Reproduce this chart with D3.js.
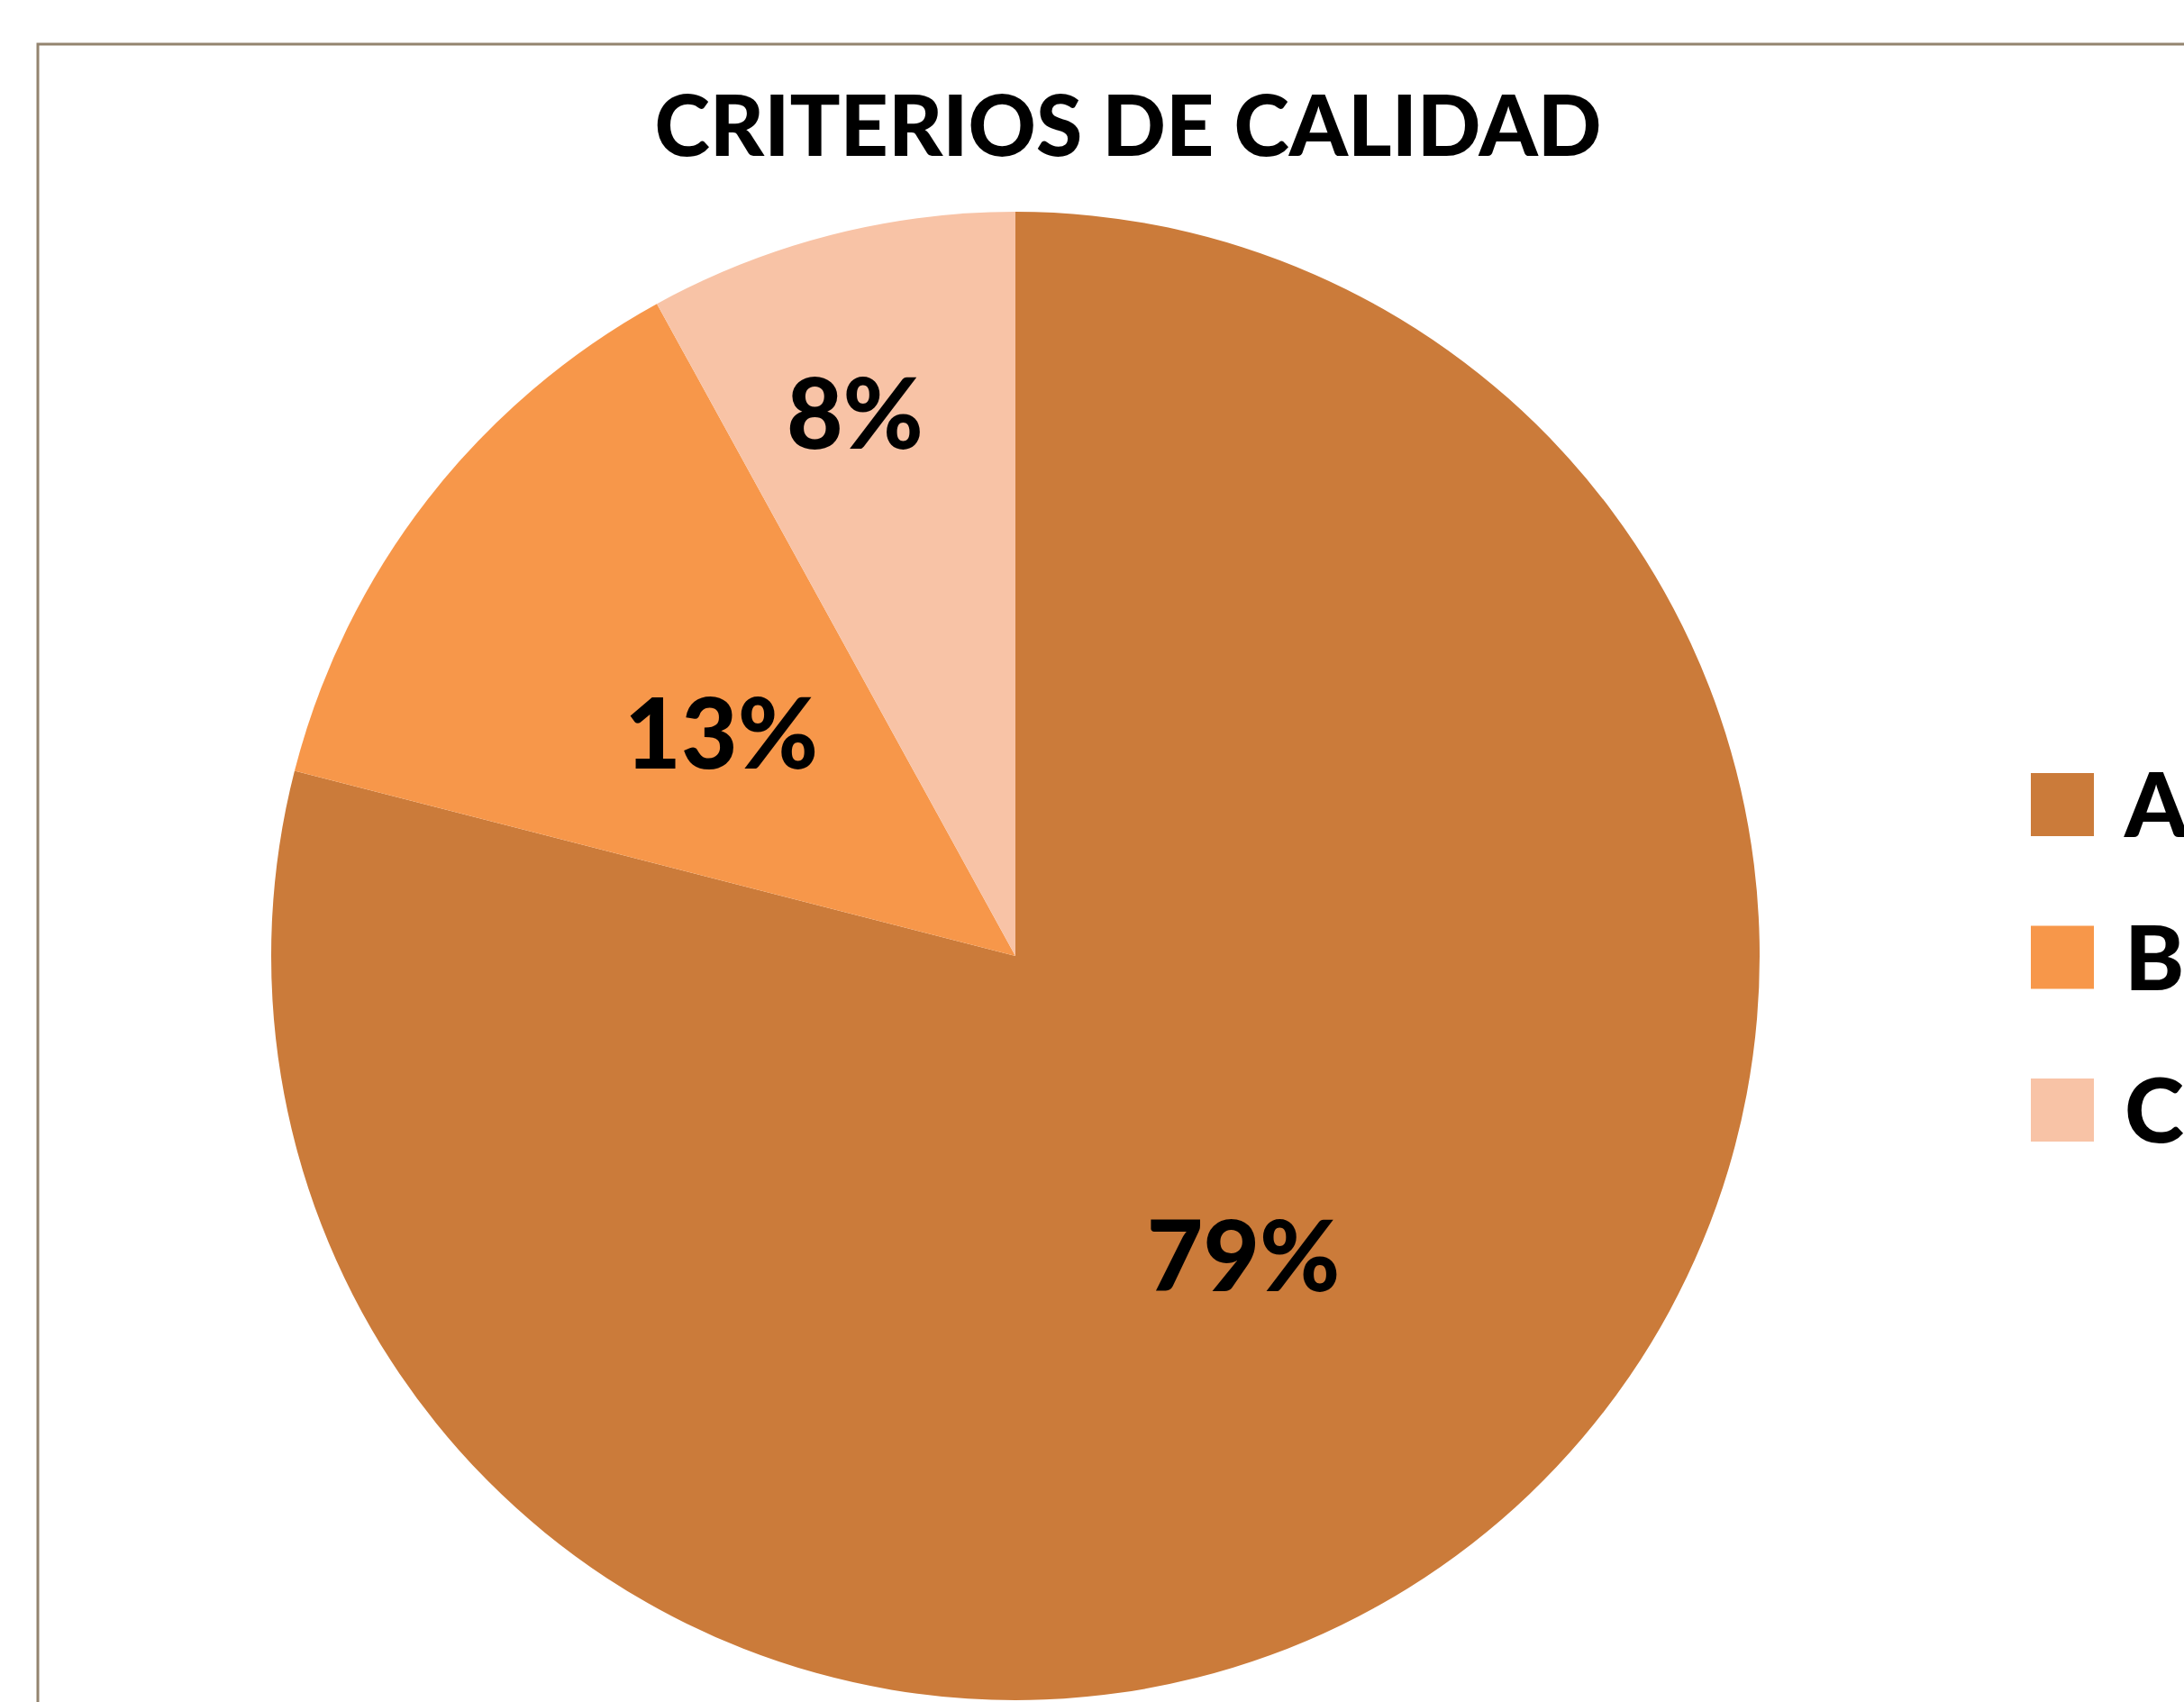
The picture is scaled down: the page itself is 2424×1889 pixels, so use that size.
<!DOCTYPE html>
<html>
<head>
<meta charset="utf-8">
<title>Criterios de calidad</title>
<script src="https://d3js.org/d3.v7.min.js"></script>
<style>
  html, body { margin: 0; padding: 0; background: #fff; overflow: hidden; }
  text { font-family: Lato, "Open Sans", sans-serif; font-weight: bold; fill: #000; }
</style>
</head>
<body>
<svg id="chart" width="2424" height="1889"></svg>
<script>
// data
var title = "CRITERIOS DE CALIDAD";
var categories = ["A", "B", "C"];
var values = [79, 13, 8];
var colors = ["#CB7B3A", "#F7974A", "#F8C3A6"];

var width = 2424, height = 1889;
var svg = d3.select("#chart");

// chart frame, runs off the right and bottom of the picture
svg.append("rect").attr("x", 42).attr("y", 49).attr("width", 2600).attr("height", 2000)
  .attr("fill", "#fff").attr("stroke", "#93846f").attr("stroke-width", 3);

svg.append("text").attr("x", 1252).attr("y", 173).attr("text-anchor", "middle")
  .style("font-size", "93px").style("font-weight", 900).text(title);

var cx = 1127, cy = 1061, r = 826;
var total = d3.sum(values);
var color = d3.scaleOrdinal().domain(categories).range(colors);

var pie = d3.pie().sort(null).value(function(d) { return d.value; });
var arcs = pie(categories.map(function(c, i) { return {name: c, value: values[i]}; }));
var arc = d3.arc().innerRadius(0).outerRadius(r);
// small slices get their label pushed out towards the rim
var arcMid = d3.arc().innerRadius(0).outerRadius(r);
var arcOut = d3.arc().innerRadius(0.52 * r).outerRadius(r);

var g = svg.append("g").attr("transform", "translate(" + cx + "," + cy + ")");
g.selectAll("path").data(arcs).enter().append("path")
  .attr("d", arc).attr("fill", function(d) { return color(d.data.name); });

g.selectAll("text.lbl").data(arcs).enter().append("text").attr("class", "lbl")
  .attr("transform", function(d) {
    var small = d.data.value / total < 0.1;
    var p = (small ? arcOut : arcMid).centroid(d);
    // excel nudges the squeezed label away from the slice edge
    if (small) p[0] -= 22;
    return "translate(" + p[0] + "," + p[1] + ")";
  })
  .attr("text-anchor", "middle").attr("dy", "0.42em")
  .style("font-size", "108px").style("font-weight", 900)
  .text(function(d) { return Math.round(d.data.value / total * 100) + "%"; });

// legend
var ly = d3.scalePoint().domain(categories).range([893, 1232]);
var leg = svg.append("g").selectAll("g").data(categories).enter().append("g")
  .attr("transform", function(d) { return "translate(2254," + ly(d) + ")"; });
leg.append("rect").attr("x", 0).attr("y", -35).attr("width", 70).attr("height", 70)
  .attr("fill", function(d) { return color(d); });
leg.append("text").attr("x", 104).attr("y", 36).style("font-size", "100px").style("font-weight", 900)
  .text(function(d) { return d; });
</script>
</body>
</html>
